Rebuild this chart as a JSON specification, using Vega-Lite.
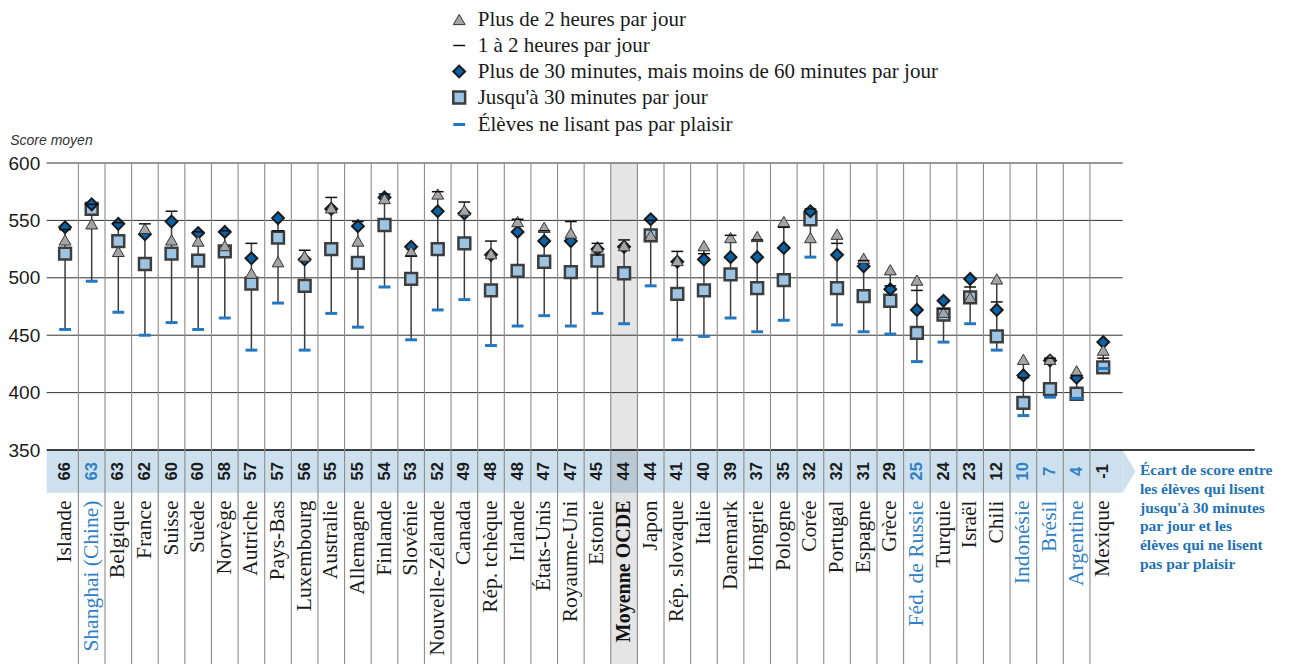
{
  "$schema": "https://vega.github.io/schema/vega-lite/v6.json",
  "width": 1208,
  "height": 501,
  "autosize": {"type": "none"},
  "padding": {"left": 46.7, "top": 163, "right": 35.3, "bottom": 0},
  "background": "white",
  "config": {
    "view": {"stroke": null},
    "font": "Liberation Serif",
    "legend": {"labelFont": "Liberation Serif", "labelFontSize": 21, "labelColor": "#1a1a1a", "rowPadding": 4, "labelOffset": 8, "padding": 0, "symbolOpacity": 1, "labelLimit": 700, "titlePadding": 0}
  },
  "datasets": {
    "scores": [
      {"pays": "Islande", "plus2h": 533, "h1a2": 542, "m30a60": 544, "jusqua30": 521, "non": 455, "ecart": 66, "partenaire": false},
      {"pays": "Shanghai (Chine)", "plus2h": 547, "h1a2": 564, "m30a60": 564, "jusqua30": 560, "non": 497, "ecart": 63, "partenaire": true},
      {"pays": "Belgique", "plus2h": 523, "h1a2": 548, "m30a60": 547, "jusqua30": 532, "non": 470, "ecart": 63, "partenaire": false},
      {"pays": "France", "plus2h": 543, "h1a2": 547, "m30a60": 538, "jusqua30": 512, "non": 450, "ecart": 62, "partenaire": false},
      {"pays": "Suisse", "plus2h": 533, "h1a2": 558, "m30a60": 549, "jusqua30": 521, "non": 461, "ecart": 60, "partenaire": false},
      {"pays": "Suède", "plus2h": 532, "h1a2": 540, "m30a60": 539, "jusqua30": 515, "non": 455, "ecart": 60, "partenaire": false},
      {"pays": "Norvège", "plus2h": 528, "h1a2": 541, "m30a60": 540, "jusqua30": 523, "non": 465, "ecart": 58, "partenaire": false},
      {"pays": "Autriche", "plus2h": 504, "h1a2": 530, "m30a60": 517, "jusqua30": 495, "non": 437, "ecart": 57, "partenaire": false},
      {"pays": "Pays-Bas", "plus2h": 514, "h1a2": 541, "m30a60": 552, "jusqua30": 535, "non": 478, "ecart": 57, "partenaire": false},
      {"pays": "Luxembourg", "plus2h": 519, "h1a2": 524, "m30a60": 516, "jusqua30": 493, "non": 437, "ecart": 56, "partenaire": false},
      {"pays": "Australie", "plus2h": 561, "h1a2": 570, "m30a60": 560, "jusqua30": 525, "non": 469, "ecart": 55, "partenaire": false},
      {"pays": "Allemagne", "plus2h": 532, "h1a2": 549, "m30a60": 545, "jusqua30": 513, "non": 457, "ecart": 55, "partenaire": false},
      {"pays": "Finlande", "plus2h": 569, "h1a2": 573, "m30a60": 570, "jusqua30": 546, "non": 492, "ecart": 54, "partenaire": false},
      {"pays": "Slovénie", "plus2h": 523, "h1a2": 519, "m30a60": 527, "jusqua30": 499, "non": 446, "ecart": 53, "partenaire": false},
      {"pays": "Nouvelle-Zélande", "plus2h": 573, "h1a2": 575, "m30a60": 558, "jusqua30": 525, "non": 472, "ecart": 52, "partenaire": false},
      {"pays": "Canada", "plus2h": 559, "h1a2": 566, "m30a60": 556, "jusqua30": 530, "non": 481, "ecart": 49, "partenaire": false},
      {"pays": "Rép. tchèque", "plus2h": 521, "h1a2": 532, "m30a60": 520, "jusqua30": 489, "non": 441, "ecart": 48, "partenaire": false},
      {"pays": "Irlande", "plus2h": 549, "h1a2": 551, "m30a60": 540, "jusqua30": 506, "non": 458, "ecart": 48, "partenaire": false},
      {"pays": "États-Unis", "plus2h": 544, "h1a2": 541, "m30a60": 532, "jusqua30": 514, "non": 467, "ecart": 47, "partenaire": false},
      {"pays": "Royaume-Uni", "plus2h": 539, "h1a2": 549, "m30a60": 532, "jusqua30": 505, "non": 458, "ecart": 47, "partenaire": false},
      {"pays": "Estonie", "plus2h": 527, "h1a2": 530, "m30a60": 525, "jusqua30": 515, "non": 469, "ecart": 45, "partenaire": false},
      {"pays": "Moyenne OCDE", "plus2h": 528, "h1a2": 533, "m30a60": 527, "jusqua30": 504, "non": 460, "ecart": 44, "partenaire": false},
      {"pays": "Japon", "plus2h": 537, "h1a2": 550, "m30a60": 551, "jusqua30": 537, "non": 493, "ecart": 44, "partenaire": false},
      {"pays": "Rép. slovaque", "plus2h": 515, "h1a2": 523, "m30a60": 514, "jusqua30": 486, "non": 446, "ecart": 41, "partenaire": false},
      {"pays": "Italie", "plus2h": 528, "h1a2": 521, "m30a60": 516, "jusqua30": 489, "non": 449, "ecart": 40, "partenaire": false},
      {"pays": "Danemark", "plus2h": 535, "h1a2": 537, "m30a60": 518, "jusqua30": 503, "non": 465, "ecart": 39, "partenaire": false},
      {"pays": "Hongrie", "plus2h": 536, "h1a2": 533, "m30a60": 518, "jusqua30": 491, "non": 453, "ecart": 37, "partenaire": false},
      {"pays": "Pologne", "plus2h": 549, "h1a2": 544, "m30a60": 526, "jusqua30": 498, "non": 463, "ecart": 35, "partenaire": false},
      {"pays": "Corée", "plus2h": 535, "h1a2": 560, "m30a60": 558, "jusqua30": 551, "non": 518, "ecart": 32, "partenaire": false},
      {"pays": "Portugal", "plus2h": 538, "h1a2": 530, "m30a60": 520, "jusqua30": 491, "non": 459, "ecart": 32, "partenaire": false},
      {"pays": "Espagne", "plus2h": 517, "h1a2": 515, "m30a60": 510, "jusqua30": 484, "non": 453, "ecart": 31, "partenaire": false},
      {"pays": "Grèce", "plus2h": 507, "h1a2": 493, "m30a60": 490, "jusqua30": 480, "non": 451, "ecart": 29, "partenaire": false},
      {"pays": "Féd. de Russie", "plus2h": 498, "h1a2": 489, "m30a60": 472, "jusqua30": 452, "non": 427, "ecart": 25, "partenaire": true},
      {"pays": "Turquie", "plus2h": 470, "h1a2": 473, "m30a60": 480, "jusqua30": 468, "non": 444, "ecart": 24, "partenaire": false},
      {"pays": "Israël", "plus2h": 483, "h1a2": 492, "m30a60": 499, "jusqua30": 483, "non": 460, "ecart": 23, "partenaire": false},
      {"pays": "Chili", "plus2h": 499, "h1a2": 479, "m30a60": 472, "jusqua30": 449, "non": 437, "ecart": 12, "partenaire": false},
      {"pays": "Indonésie", "plus2h": 429, "h1a2": 413, "m30a60": 415, "jusqua30": 391, "non": 380, "ecart": 10, "partenaire": true},
      {"pays": "Brésil", "plus2h": 429, "h1a2": 430, "m30a60": 428, "jusqua30": 403, "non": 396, "ecart": 7, "partenaire": true},
      {"pays": "Argentine", "plus2h": 419, "h1a2": 415, "m30a60": 413, "jusqua30": 399, "non": 395, "ecart": 4, "partenaire": true},
      {"pays": "Mexique", "plus2h": 437, "h1a2": 430, "m30a60": 444, "jusqua30": 422, "non": 421, "ecart": -1, "partenaire": false}
    ],
    "series": [
      {"code": "plus2h", "serie": "Plus de 2 heures par jour"},
      {"code": "h1a2", "serie": "1 à 2 heures par jour"},
      {"code": "m30a60", "serie": "Plus de 30 minutes, mais moins de 60 minutes par jour"},
      {"code": "jusqua30", "serie": "Jusqu'à 30 minutes par jour"},
      {"code": "non", "serie": "Élèves ne lisant pas par plaisir"}
    ]
  },
  "data": {"name": "scores"},
  "layer": [
    {
      "data": {"values": [{}]},
      "mark": {"type": "rect", "fill": "#cde0ee"},
      "encoding": {
        "x": {"datum": "Islande", "type": "nominal", "bandPosition": -0.19, "axis": null,
          "scale": {"domain": ["Islande","Shanghai (Chine)","Belgique","France","Suisse","Suède","Norvège","Autriche","Pays-Bas","Luxembourg","Australie","Allemagne","Finlande","Slovénie","Nouvelle-Zélande","Canada","Rép. tchèque","Irlande","États-Unis","Royaume-Uni","Estonie","Moyenne OCDE","Japon","Rép. slovaque","Italie","Danemark","Hongrie","Pologne","Corée","Portugal","Espagne","Grèce","Féd. de Russie","Turquie","Israël","Chili","Indonésie","Brésil","Argentine","Mexique","_1","_2","_3","_4","_5"], "paddingInner": 0, "paddingOuter": 0.19, "align": 0.5}},
        "x2": {"datum": "Mexique", "bandPosition": 1.23},
        "y": {"datum": 350, "type": "quantitative", "scale": {"domain": [163.6, 600], "nice": false, "zero": false},
          "axis": {"values": [350, 400, 450, 500, 550, 600], "grid": false, "domain": false, "ticks": false,
            "labelFont": "Liberation Sans", "labelFontSize": 19, "labelColor": "#1a1a1a", "labelPadding": 7,
            "title": "Score moyen", "titleAngle": 0, "titleAlign": "left", "titleBaseline": "alphabetic",
            "titleX": -37, "titleY": -19, "titleFont": "Liberation Sans", "titleFontSize": 14,
            "titleFontStyle": "italic", "titleFontWeight": "normal", "titleColor": "#333333"}},
        "y2": {"datum": 312.8}
      }
    },
    {
      "data": {"values": [{}]},
      "mark": {"type": "point", "shape": "M0,-1L0.6,0L0,1Z", "size": 1823, "filled": true, "fill": "#cde0ee", "strokeWidth": 0, "opacity": 1},
      "encoding": {
        "x": {"datum": "Mexique", "type": "nominal", "bandPosition": 1.23,
          "scale": {"domain": ["Islande","Shanghai (Chine)","Belgique","France","Suisse","Suède","Norvège","Autriche","Pays-Bas","Luxembourg","Australie","Allemagne","Finlande","Slovénie","Nouvelle-Zélande","Canada","Rép. tchèque","Irlande","États-Unis","Royaume-Uni","Estonie","Moyenne OCDE","Japon","Rép. slovaque","Italie","Danemark","Hongrie","Pologne","Corée","Portugal","Espagne","Grèce","Féd. de Russie","Turquie","Israël","Chili","Indonésie","Brésil","Argentine","Mexique","_1","_2","_3","_4","_5"], "paddingInner": 0, "paddingOuter": 0.19, "align": 0.5}},
        "y": {"datum": 331.4, "type": "quantitative", "scale": {"domain": [163.6, 600], "nice": false, "zero": false}}
      }
    },
    {
      "transform": [{"filter": "datum.pays === 'Moyenne OCDE'"}],
      "mark": {"type": "rect", "fill": "#000000", "opacity": 0.1},
      "encoding": {
        "x": {"field": "pays", "type": "nominal",
          "scale": {"domain": ["Islande","Shanghai (Chine)","Belgique","France","Suisse","Suède","Norvège","Autriche","Pays-Bas","Luxembourg","Australie","Allemagne","Finlande","Slovénie","Nouvelle-Zélande","Canada","Rép. tchèque","Irlande","États-Unis","Royaume-Uni","Estonie","Moyenne OCDE","Japon","Rép. slovaque","Italie","Danemark","Hongrie","Pologne","Corée","Portugal","Espagne","Grèce","Féd. de Russie","Turquie","Israël","Chili","Indonésie","Brésil","Argentine","Mexique","_1","_2","_3","_4","_5"], "paddingInner": 0, "paddingOuter": 0.19, "align": 0.5}},
        "y": {"datum": 600, "type": "quantitative", "scale": {"domain": [163.6, 600], "nice": false, "zero": false}},
        "y2": {"datum": 163.6}
      }
    },
    {
      "data": {"values": [{"v": 400}, {"v": 450}, {"v": 500}, {"v": 550}, {"v": 600}]},
      "mark": {"type": "rule", "color": "#333333", "strokeWidth": 1},
      "encoding": {
        "x": {"datum": "Islande", "type": "nominal", "bandPosition": -0.19,
          "scale": {"domain": ["Islande","Shanghai (Chine)","Belgique","France","Suisse","Suède","Norvège","Autriche","Pays-Bas","Luxembourg","Australie","Allemagne","Finlande","Slovénie","Nouvelle-Zélande","Canada","Rép. tchèque","Irlande","États-Unis","Royaume-Uni","Estonie","Moyenne OCDE","Japon","Rép. slovaque","Italie","Danemark","Hongrie","Pologne","Corée","Portugal","Espagne","Grèce","Féd. de Russie","Turquie","Israël","Chili","Indonésie","Brésil","Argentine","Mexique","_1","_2","_3","_4","_5"], "paddingInner": 0, "paddingOuter": 0.19, "align": 0.5}},
        "x2": {"datum": "Mexique", "bandPosition": 1.23},
        "y": {"field": "v", "type": "quantitative", "scale": {"domain": [163.6, 600], "nice": false, "zero": false}}
      }
    },
    {
      "data": {"values": [{}]},
      "mark": {"type": "rule", "color": "#000000", "strokeWidth": 1.6},
      "encoding": {
        "y": {"datum": 350, "type": "quantitative", "scale": {"domain": [163.6, 600], "nice": false, "zero": false}}
      }
    },
    {
      "transform": [{"filter": "datum.pays !== 'Islande'"}],
      "mark": {"type": "rule", "color": "#8c8c8c", "strokeWidth": 1.1},
      "encoding": {
        "x": {"field": "pays", "type": "nominal", "bandPosition": 0,
          "scale": {"domain": ["Islande","Shanghai (Chine)","Belgique","France","Suisse","Suède","Norvège","Autriche","Pays-Bas","Luxembourg","Australie","Allemagne","Finlande","Slovénie","Nouvelle-Zélande","Canada","Rép. tchèque","Irlande","États-Unis","Royaume-Uni","Estonie","Moyenne OCDE","Japon","Rép. slovaque","Italie","Danemark","Hongrie","Pologne","Corée","Portugal","Espagne","Grèce","Féd. de Russie","Turquie","Israël","Chili","Indonésie","Brésil","Argentine","Mexique","_1","_2","_3","_4","_5"], "paddingInner": 0, "paddingOuter": 0.19, "align": 0.5}},
        "y": {"datum": 600, "type": "quantitative", "scale": {"domain": [163.6, 600], "nice": false, "zero": false}},
        "y2": {"datum": 163.6}
      }
    },
    {
      "transform": [{"fold": ["jusqua30", "m30a60", "plus2h", "h1a2", "non"], "as": ["code", "score"]}],
      "mark": {"type": "rule", "color": "#3c3c3c", "strokeWidth": 1.5},
      "encoding": {
        "x": {"field": "pays", "type": "nominal",
          "scale": {"domain": ["Islande","Shanghai (Chine)","Belgique","France","Suisse","Suède","Norvège","Autriche","Pays-Bas","Luxembourg","Australie","Allemagne","Finlande","Slovénie","Nouvelle-Zélande","Canada","Rép. tchèque","Irlande","États-Unis","Royaume-Uni","Estonie","Moyenne OCDE","Japon","Rép. slovaque","Italie","Danemark","Hongrie","Pologne","Corée","Portugal","Espagne","Grèce","Féd. de Russie","Turquie","Israël","Chili","Indonésie","Brésil","Argentine","Mexique","_1","_2","_3","_4","_5"], "paddingInner": 0, "paddingOuter": 0.19, "align": 0.5}},
        "y": {"aggregate": "min", "field": "score", "type": "quantitative", "scale": {"domain": [163.6, 600], "nice": false, "zero": false}},
        "y2": {"aggregate": "max", "field": "score"}
      }
    },
    {
      "transform": [
        {"fold": ["jusqua30", "m30a60", "plus2h", "h1a2", "non"], "as": ["code", "score"]},
        {"lookup": "code", "from": {"data": {"name": "series"}, "key": "code", "fields": ["serie"]}}
      ],
      "mark": {"type": "point", "filled": true, "opacity": 1},
      "encoding": {
        "x": {"field": "pays", "type": "nominal",
          "scale": {"domain": ["Islande","Shanghai (Chine)","Belgique","France","Suisse","Suède","Norvège","Autriche","Pays-Bas","Luxembourg","Australie","Allemagne","Finlande","Slovénie","Nouvelle-Zélande","Canada","Rép. tchèque","Irlande","États-Unis","Royaume-Uni","Estonie","Moyenne OCDE","Japon","Rép. slovaque","Italie","Danemark","Hongrie","Pologne","Corée","Portugal","Espagne","Grèce","Féd. de Russie","Turquie","Israël","Chili","Indonésie","Brésil","Argentine","Mexique","_1","_2","_3","_4","_5"], "paddingInner": 0, "paddingOuter": 0.19, "align": 0.5}},
        "y": {"field": "score", "type": "quantitative", "scale": {"domain": [163.6, 600], "nice": false, "zero": false}},
        "shape": {"field": "serie", "type": "nominal",
          "scale": {"domain": ["Plus de 2 heures par jour", "1 à 2 heures par jour", "Plus de 30 minutes, mais moins de 60 minutes par jour", "Jusqu'à 30 minutes par jour", "Élèves ne lisant pas par plaisir"],
            "range": ["triangle-up", "stroke", "diamond", "square", "stroke"]},
          "legend": {"orient": "none", "legendX": 402, "legendY": -154, "title": null, "labelFont": "Liberation Serif", "labelFontSize": 21}},
        "fill": {"field": "serie", "type": "nominal",
          "scale": {"domain": ["Plus de 2 heures par jour", "1 à 2 heures par jour", "Plus de 30 minutes, mais moins de 60 minutes par jour", "Jusqu'à 30 minutes par jour", "Élèves ne lisant pas par plaisir"],
            "range": ["#a5a5a5", "#111111", "#0862a8", "#9ec4e4", "#2378c3"]}},
        "stroke": {"field": "serie", "type": "nominal",
          "scale": {"domain": ["Plus de 2 heures par jour", "1 à 2 heures par jour", "Plus de 30 minutes, mais moins de 60 minutes par jour", "Jusqu'à 30 minutes par jour", "Élèves ne lisant pas par plaisir"],
            "range": ["#333333", "#111111", "#1a1a1a", "#3d3d3d", "#2378c3"]}},
        "size": {"field": "serie", "type": "nominal",
          "scale": {"domain": ["Plus de 2 heures par jour", "1 à 2 heures par jour", "Plus de 30 minutes, mais moins de 60 minutes par jour", "Jusqu'à 30 minutes par jour", "Élèves ne lisant pas par plaisir"],
            "range": [140, 140, 165, 105, 120]}},
        "strokeWidth": {"field": "serie", "type": "nominal",
          "scale": {"domain": ["Plus de 2 heures par jour", "1 à 2 heures par jour", "Plus de 30 minutes, mais moins de 60 minutes par jour", "Jusqu'à 30 minutes par jour", "Élèves ne lisant pas par plaisir"],
            "range": [1, 3, 1, 1, 3]}}
      }
    },
    {
      "mark": {"type": "text", "angle": 270, "align": "center", "baseline": "middle", "font": "Liberation Sans", "fontSize": 16.5, "fontWeight": "bold"},
      "encoding": {
        "x": {"field": "pays", "type": "nominal",
          "scale": {"domain": ["Islande","Shanghai (Chine)","Belgique","France","Suisse","Suède","Norvège","Autriche","Pays-Bas","Luxembourg","Australie","Allemagne","Finlande","Slovénie","Nouvelle-Zélande","Canada","Rép. tchèque","Irlande","États-Unis","Royaume-Uni","Estonie","Moyenne OCDE","Japon","Rép. slovaque","Italie","Danemark","Hongrie","Pologne","Corée","Portugal","Espagne","Grèce","Féd. de Russie","Turquie","Israël","Chili","Indonésie","Brésil","Argentine","Mexique","_1","_2","_3","_4","_5"], "paddingInner": 0, "paddingOuter": 0.19, "align": 0.5}},
        "y": {"datum": 331.4, "type": "quantitative", "scale": {"domain": [163.6, 600], "nice": false, "zero": false}},
        "text": {"field": "ecart", "type": "nominal"},
        "color": {"condition": {"test": "datum.partenaire", "value": "#2f80c4"}, "value": "#1a1a1a"}
      }
    },
    {
      "transform": [{"filter": "datum.pays !== 'Moyenne OCDE'"}],
      "mark": {"type": "text", "angle": 270, "align": "right", "baseline": "middle", "font": "Liberation Serif", "fontSize": 21.5},
      "encoding": {
        "x": {"field": "pays", "type": "nominal",
          "scale": {"domain": ["Islande","Shanghai (Chine)","Belgique","France","Suisse","Suède","Norvège","Autriche","Pays-Bas","Luxembourg","Australie","Allemagne","Finlande","Slovénie","Nouvelle-Zélande","Canada","Rép. tchèque","Irlande","États-Unis","Royaume-Uni","Estonie","Moyenne OCDE","Japon","Rép. slovaque","Italie","Danemark","Hongrie","Pologne","Corée","Portugal","Espagne","Grèce","Féd. de Russie","Turquie","Israël","Chili","Indonésie","Brésil","Argentine","Mexique","_1","_2","_3","_4","_5"], "paddingInner": 0, "paddingOuter": 0.19, "align": 0.5}},
        "y": {"datum": 306, "type": "quantitative", "scale": {"domain": [163.6, 600], "nice": false, "zero": false}},
        "text": {"field": "pays", "type": "nominal"},
        "color": {"condition": {"test": "datum.partenaire", "value": "#2f80c4"}, "value": "#1a1a1a"}
      }
    },
    {
      "transform": [{"filter": "datum.pays === 'Moyenne OCDE'"}],
      "mark": {"type": "text", "angle": 270, "align": "right", "baseline": "middle", "font": "Liberation Serif", "fontSize": 20, "fontWeight": "bold", "color": "#111111"},
      "encoding": {
        "x": {"field": "pays", "type": "nominal",
          "scale": {"domain": ["Islande","Shanghai (Chine)","Belgique","France","Suisse","Suède","Norvège","Autriche","Pays-Bas","Luxembourg","Australie","Allemagne","Finlande","Slovénie","Nouvelle-Zélande","Canada","Rép. tchèque","Irlande","États-Unis","Royaume-Uni","Estonie","Moyenne OCDE","Japon","Rép. slovaque","Italie","Danemark","Hongrie","Pologne","Corée","Portugal","Espagne","Grèce","Féd. de Russie","Turquie","Israël","Chili","Indonésie","Brésil","Argentine","Mexique","_1","_2","_3","_4","_5"], "paddingInner": 0, "paddingOuter": 0.19, "align": 0.5}},
        "y": {"datum": 306, "type": "quantitative", "scale": {"domain": [163.6, 600], "nice": false, "zero": false}},
        "text": {"field": "pays", "type": "nominal"}
      }
    },
    {
      "data": {"values": [{"note": "Écart de score entre\nles élèves qui lisent\njusqu'à 30 minutes\npar jour et les\nélèves qui ne lisent\npas par plaisir"}]},
      "mark": {"type": "text", "align": "left", "baseline": "top", "lineBreak": "\n", "lineHeight": 18.7, "font": "Liberation Serif", "fontSize": 15.5, "fontWeight": "bold", "color": "#1f72b8"},
      "encoding": {
        "x": {"datum": "Mexique", "type": "nominal", "bandPosition": 1.88,
          "scale": {"domain": ["Islande","Shanghai (Chine)","Belgique","France","Suisse","Suède","Norvège","Autriche","Pays-Bas","Luxembourg","Australie","Allemagne","Finlande","Slovénie","Nouvelle-Zélande","Canada","Rép. tchèque","Irlande","États-Unis","Royaume-Uni","Estonie","Moyenne OCDE","Japon","Rép. slovaque","Italie","Danemark","Hongrie","Pologne","Corée","Portugal","Espagne","Grèce","Féd. de Russie","Turquie","Israël","Chili","Indonésie","Brésil","Argentine","Mexique","_1","_2","_3","_4","_5"], "paddingInner": 0, "paddingOuter": 0.19, "align": 0.5}},
        "y": {"datum": 338.5, "type": "quantitative", "scale": {"domain": [163.6, 600], "nice": false, "zero": false}},
        "text": {"field": "note", "type": "nominal"}
      }
    }
  ]
}
